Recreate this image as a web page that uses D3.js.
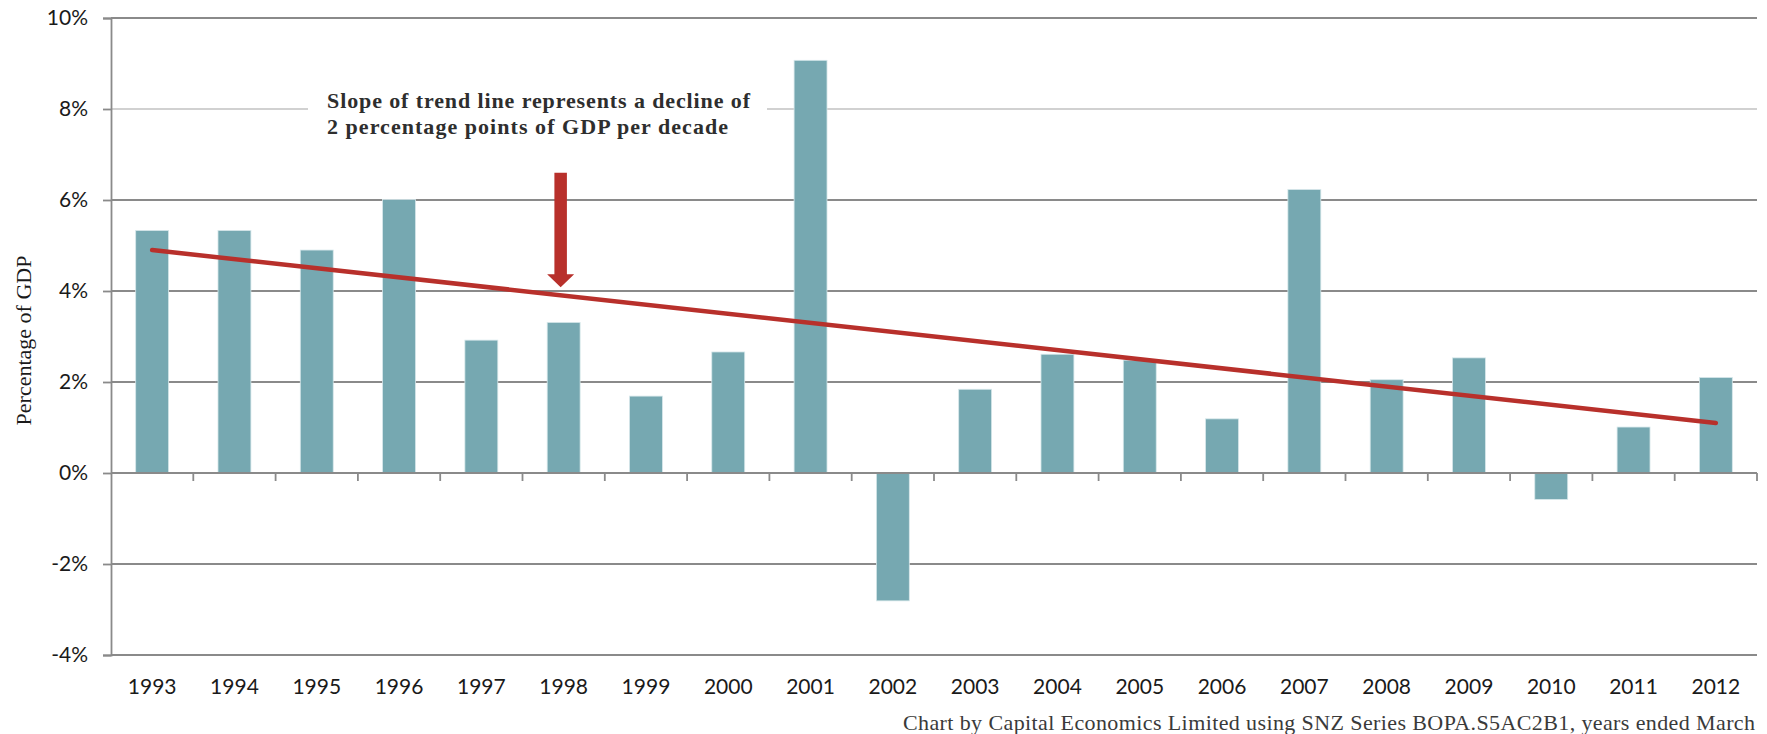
<!DOCTYPE html>
<html>
<head>
<meta charset="utf-8">
<script src="https://cdn.jsdelivr.net/npm/d3@7/dist/d3.min.js"></script>
<style>
  html, body { margin: 0; padding: 0; background: #ffffff; }
  svg { display: block; }
</style>
</head>
<body>
<svg id="chart" width="1767" height="734"></svg>
<script>
// Current account balance, percentage of GDP, years ended March
const years = ["1993","1994","1995","1996","1997","1998","1999","2000","2001","2002",
               "2003","2004","2005","2006","2007","2008","2009","2010","2011","2012"];
const values = [5.33, 5.33, 4.90, 6.01, 2.92, 3.31, 1.69, 2.66, 9.07, -2.81,
                1.84, 2.61, 2.48, 1.19, 6.23, 2.05, 2.53, -0.58, 1.01, 2.10];
// Linear trend: endpoints at first and last year
const trendYears = ["1993", "2012"];
const trendValues = [4.9, 1.1];
const yTicks = [-4, -2, 0, 2, 4, 6, 8, 10];
const annotationLines = ["Slope of trend line represents a decline of",
                         "2 percentage points of GDP per decade"];
const arrowYear = "1998";
const arrowRange = [6.6, 4.08];
const yTitle = "Percentage of GDP";
const source = "Chart by Capital Economics Limited using SNZ Series BOPA.S5AC2B1, years ended March";

const svg = d3.select("#chart");
const plotLeft = 111, plotRight = 1757, plotTop = 18, plotBottom = 655;

const x = d3.scaleBand().domain(years).range([plotLeft, plotRight])
  .paddingInner(0.6).paddingOuter(0.3);
const y = d3.scaleLinear().domain([-4, 10]).range([plotBottom, plotTop]);

const gridColor = "#8a8a8a";
const barColor = "#76a8b1";
const red = "#b8302b";
const sansFont = "Lato, 'Open Sans', sans-serif";
const serifFont = "'Liberation Serif', 'DejaVu Serif', serif";

// Horizontal gridlines (8% line is lighter)
svg.append("g").selectAll("line").data(yTicks).join("line")
  .attr("x1", plotLeft).attr("x2", plotRight)
  .attr("y1", d => y(d)).attr("y2", d => y(d))
  .attr("stroke", d => d === 8 ? "#c2c2c2" : gridColor)
  .attr("stroke-width", d => d === 8 ? 1.4 : 1.8);

// Y axis
const yAxis = svg.append("g").attr("transform", `translate(${plotLeft},0)`)
  .call(d3.axisLeft(y).tickValues(yTicks).tickSize(8).tickPadding(15)
    .tickFormat(d => d + "%"));
yAxis.select(".domain").attr("stroke", gridColor).attr("stroke-width", 1.8);
yAxis.selectAll(".tick line").attr("stroke", gridColor).attr("stroke-width", 1.8);
yAxis.selectAll(".tick text")
  .attr("font-family", sansFont).attr("font-size", 21).attr("fill", "#1a1a1a");

// Annotation backdrop breaks the 8% gridline
const noteX = 327;
svg.append("rect")
  .attr("x", 308).attr("y", y(8) - 14).attr("width", 459).attr("height", 28)
  .attr("fill", "#ffffff");

// Bars
svg.append("g").selectAll("rect").data(years).join("rect")
  .attr("x", d => x(d))
  .attr("width", x.bandwidth())
  .attr("y", (d, i) => y(Math.max(0, values[i])))
  .attr("height", (d, i) => Math.abs(y(values[i]) - y(0)))
  .attr("fill", barColor)
  .attr("stroke", "#d6e7ea").attr("stroke-width", 0.8);

// Zero line on top of bars with category boundary ticks
svg.append("line")
  .attr("x1", plotLeft).attr("x2", plotRight).attr("y1", y(0)).attr("y2", y(0))
  .attr("stroke", gridColor).attr("stroke-width", 1.8);
const boundaries = d3.range(1, years.length + 1).map(i => plotLeft + i * x.step());
svg.append("g").selectAll("line").data(boundaries).join("line")
  .attr("x1", d => d).attr("x2", d => d)
  .attr("y1", y(0)).attr("y2", y(0) + 8)
  .attr("stroke", gridColor).attr("stroke-width", 1.8);

// X labels
const xAxis = svg.append("g").attr("transform", `translate(0,${y(-4)})`)
  .call(d3.axisBottom(x).tickSize(0));
xAxis.select(".domain").remove();
xAxis.selectAll(".tick text")
  .attr("y", 39).attr("dy", 0)
  .attr("font-family", sansFont).attr("font-size", 21).attr("fill", "#1a1a1a");

// Trend line
const cx = d => x(d) + x.bandwidth() / 2;
svg.append("line")
  .attr("x1", cx(trendYears[0])).attr("y1", y(trendValues[0]))
  .attr("x2", cx(trendYears[1])).attr("y2", y(trendValues[1]))
  .attr("stroke", red).attr("stroke-width", 4.5).attr("stroke-linecap", "round");

// Arrow pointing at the trend line
const ax = cx(arrowYear) - 3;
const aTop = y(arrowRange[0]), aTip = y(arrowRange[1]);
const headH = 13, headW = 27, shaftW = 12.5;
svg.append("path")
  .attr("d", `M${ax - shaftW / 2},${aTop} L${ax + shaftW / 2},${aTop}
              L${ax + shaftW / 2},${aTip - headH} L${ax + headW / 2},${aTip - headH}
              L${ax},${aTip} L${ax - headW / 2},${aTip - headH}
              L${ax - shaftW / 2},${aTip - headH} Z`)
  .attr("fill", red);

// Annotation text
const noteWidths = [423, 401];
svg.append("g").selectAll("text").data(annotationLines).join("text")
  .attr("x", noteX).attr("y", (d, i) => y(8) - 1.5 + i * 26)
  .attr("font-family", serifFont).attr("font-weight", "bold")
  .attr("font-size", 22).attr("fill", "#2e2e2e")
  .attr("textLength", (d, i) => noteWidths[i]).attr("lengthAdjust", "spacing")
  .text(d => d);

// Y axis title
svg.append("text")
  .attr("transform", `translate(31,${(plotTop + plotBottom) / 2 + 4}) rotate(-90)`)
  .attr("text-anchor", "middle")
  .attr("font-family", serifFont).attr("font-size", 22).attr("fill", "#1a1a1a")
  .text(yTitle);

// Source note
svg.append("text")
  .attr("x", plotRight - 2).attr("y", 730)
  .attr("text-anchor", "end")
  .attr("font-family", serifFont).attr("font-size", 22).attr("fill", "#3a3a3a")
  .attr("textLength", 852).attr("lengthAdjust", "spacing")
  .text(source);
</script>
</body>
</html>
